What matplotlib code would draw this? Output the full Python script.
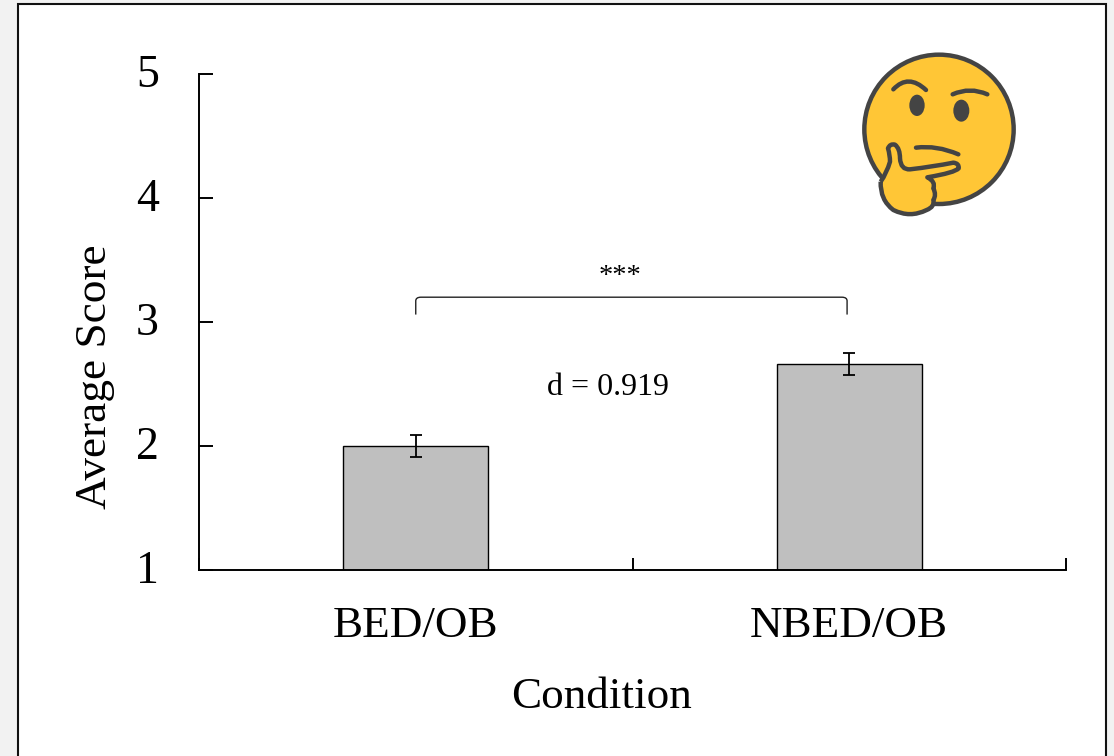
from __future__ import annotations

import matplotlib

matplotlib.use("Agg")

import matplotlib.pyplot as plt
from matplotlib.patches import Circle, Ellipse, PathPatch, Rectangle
from matplotlib.path import Path
from matplotlib.transforms import ScaledTranslation

plt.rcParams["font.family"] = ["Liberation Serif", "DejaVu Serif"]

FIG_W = 1114
FIG_H = 756
INK = "#444444"
FACE = "#ffc636"

conditions = ["BED/OB", "NBED/OB"]
scores = [2.0, 2.66]
errors = [0.09, 0.09]
y_ticks = [1, 2, 3, 4, 5]
x_boundaries = [-0.5, 0.5, 1.5]
effect_label = "d = 0.919"
signif_label = "***"


def fig_box(left: float, top: float, width: float, height: float) -> list[float]:
    """Convert a pixel box measured from the top left to figure fractions."""

    return [left / FIG_W, 1 - (top + height) / FIG_H, width / FIG_W, height / FIG_H]


def curve(*points) -> Path:
    """Open path of quadratic segments: start, control, end, control, end..."""

    codes = [Path.MOVETO] + [Path.CURVE3] * (len(points) - 1)
    return Path(points, codes)


def draw_frame(fig) -> None:
    x, y, w, h = fig_box(18, 4, 1088, 770)
    fig.add_artist(
        Rectangle(
            (x, y), w, h, transform=fig.transFigure,
            facecolor="white", edgecolor="#111111", linewidth=1.5, zorder=-1,
        )
    )


def draw_bracket(ax) -> None:
    verts = [
        (0, 3.06), (0, 3.17), (0, 3.2), (0.012, 3.2),
        (0.983, 3.2), (0.995, 3.2), (0.995, 3.17), (0.995, 3.06),
    ]
    codes = [
        Path.MOVETO, Path.LINETO, Path.CURVE3, Path.CURVE3,
        Path.LINETO, Path.CURVE3, Path.CURVE3, Path.LINETO,
    ]
    ax.add_patch(PathPatch(Path(verts, codes), fill=False, edgecolor="#222222", linewidth=1.0))


def draw_emoji(fig) -> None:
    # coordinates below are pixels of a 570 wide tracing of the thinking face
    ax = fig.add_axes(fig_box(840, 40, 190, 190))
    ax.set_xlim(0, 570)
    ax.set_ylim(570, 0)
    ax.axis("off")

    stroke = {"edgecolor": INK, "linewidth": 3.2}
    ax.add_patch(Circle((297, 268), 224, facecolor=FACE, **stroke))
    ax.add_patch(Ellipse((231, 196), 46, 64, facecolor=INK))
    ax.add_patch(Ellipse((364, 212), 48, 66, facecolor=INK))

    lines = [
        curve((160, 148), (205, 100), (258, 150)),
        curve((338, 163), (390, 140), (442, 163)),
        curve((228, 323), (290, 315), (355, 343)),
    ]
    for line in lines:
        ax.add_patch(PathPatch(line, fill=False, capstyle="round", **stroke))

    hand = [
        (122, 425),
        (140, 400), (150, 365),
        (150, 345), (144, 325),
        (150, 310), (165, 314),
        (180, 325), (180, 355),
        (182, 390), (210, 388),
        (280, 380), (340, 368),
        (358, 370), (356, 385),
        (345, 398), (262, 412),
        (288, 425), (280, 445),
        (290, 465), (280, 480),
        (285, 500), (260, 510),
        (210, 535), (160, 510),
        (120, 480), (122, 425),
    ]
    codes = [Path.MOVETO] + [Path.CURVE3] * (len(hand) - 1)
    ax.add_patch(PathPatch(Path(hand, codes), facecolor=FACE, joinstyle="round", **stroke))


def main() -> None:
    fig = plt.figure(figsize=(FIG_W / 100, FIG_H / 100), dpi=100, facecolor="#f2f2f2")
    draw_frame(fig)

    ax = fig.add_axes(fig_box(199, 74, 867, 496))
    ax.patch.set_alpha(0)
    ax.bar(
        range(len(conditions)), scores, width=0.335, bottom=0,
        color="#bfbfbf", edgecolor="black", linewidth=1.0,
    )
    ax.errorbar(
        range(len(conditions)), scores, yerr=errors, fmt="none",
        ecolor="black", elinewidth=1.3, capsize=4.3, capthick=1.3,
    )
    ax.set_xlim(x_boundaries[0], x_boundaries[-1])
    ax.set_ylim(y_ticks[0], y_ticks[-1])

    ax.set_yticks(y_ticks)
    ax.set_xticks(range(len(conditions)), labels=conditions)
    ax.set_xticks(x_boundaries, minor=True)
    ax.tick_params(axis="x", which="major", length=0, pad=26, labelsize=32.5)
    ax.tick_params(axis="x", which="minor", direction="in", length=9, width=1.4)
    ax.tick_params(axis="y", direction="in", length=10, width=1.4, pad=29, labelsize=33)

    # the digits sit a little above their ticks in the original
    nudge = ScaledTranslation(0, 3 / 72 * 72 / 100, fig.dpi_scale_trans)
    for label in ax.get_yticklabels():
        label.set_transform(label.get_transform() + nudge)

    for side in ("top", "right"):
        ax.spines[side].set_visible(False)
    for side in ("left", "bottom"):
        ax.spines[side].set_linewidth(1.4)

    ax.set_xlabel("Condition", fontsize=32.5)
    ax.xaxis.set_label_coords(0.4637, -0.256)
    ax.xaxis.label.set_verticalalignment("center")
    ax.set_ylabel("Average Score", fontsize=32.6)
    ax.yaxis.set_label_coords(-0.1195, 0.389)
    ax.yaxis.label.set_verticalalignment("center")

    draw_bracket(ax)
    ax.text(0.443, 2.475, effect_label, fontsize=23, ha="center", va="center")
    ax.text(0.472, 3.37, signif_label, fontsize=20.5, ha="center", va="center")

    draw_emoji(fig)
    fig.savefig("out.png", dpi=100, facecolor=fig.get_facecolor())


if __name__ == "__main__":
    main()
